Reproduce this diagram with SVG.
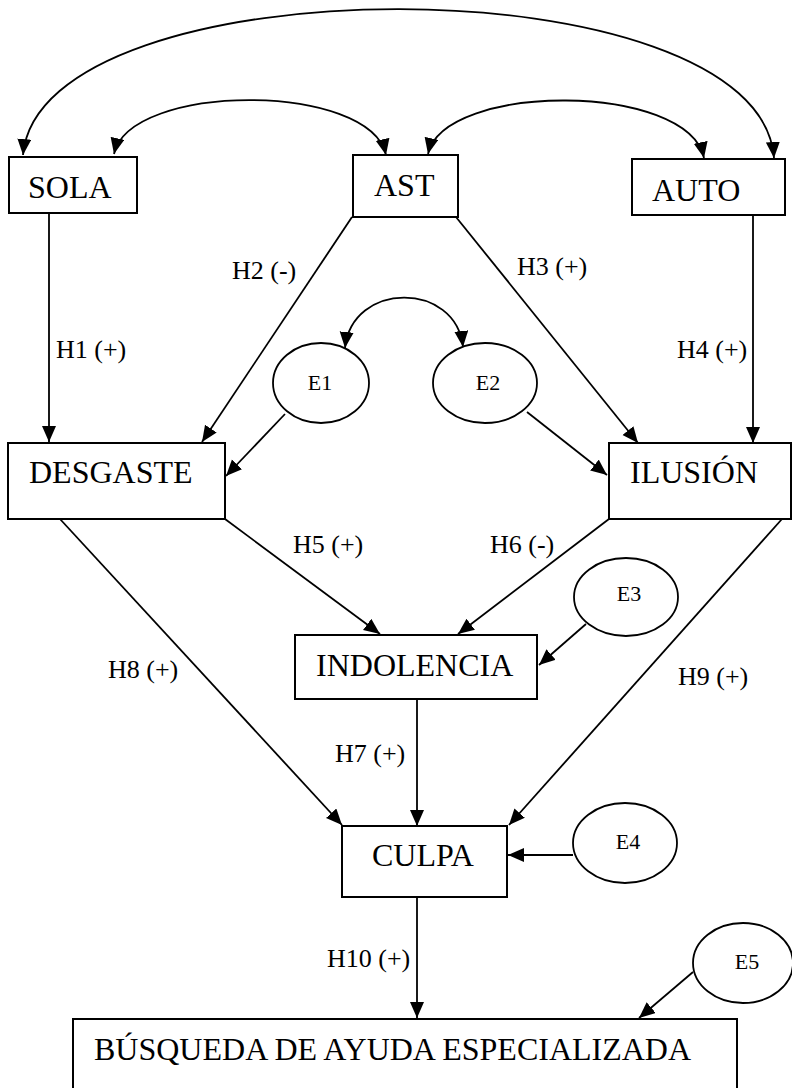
<svg xmlns="http://www.w3.org/2000/svg" width="792" height="1088" viewBox="0 0 792 1088">
<style>
.box{fill:#fff;stroke:#000;stroke-width:2}
.ell{fill:#fff;stroke:#000;stroke-width:1.8}
.ln{fill:none;stroke:#000;stroke-width:1.8;marker-end:url(#ah)}
.dbl{fill:none;stroke:#000;stroke-width:1.8;marker-start:url(#ah);marker-end:url(#ah)}
.nt{font-family:"Liberation Serif","Times New Roman",serif;font-size:32px;fill:#000}
.et{font-family:"Liberation Serif","Times New Roman",serif;font-size:22px;fill:#000;text-anchor:middle}
.lb{font-family:"Liberation Serif","Times New Roman",serif;font-size:26px;fill:#000}
</style>
<defs>
<marker id="ah" markerUnits="userSpaceOnUse" markerWidth="17" markerHeight="15" refX="16" refY="7" orient="auto-start-reverse">
<path d="M0,0 L16,7 L0,14 z" fill="#000"/>
</marker>
</defs>
<rect width="792" height="1088" fill="#fff"/>
<g id="connectors">
<path class="dbl" d="M 23 155 C 40 -40, 760 -40, 774 158"/>
<path class="dbl" d="M 114 154 C 130 82, 370 82, 386 155"/>
<path class="dbl" d="M 428 154 C 444 82, 688 82, 704 158"/>
<path class="dbl" d="M 345 348 C 352 281, 456 281, 463 347"/>
<line class="ln" x1="49" y1="213" x2="49" y2="442"/>
<line class="ln" x1="352" y1="217" x2="202" y2="442"/>
<line class="ln" x1="456" y1="217" x2="638" y2="443"/>
<line class="ln" x1="753" y1="215" x2="753" y2="443"/>
<line class="ln" x1="285" y1="414" x2="226" y2="476"/>
<line class="ln" x1="527" y1="412" x2="607" y2="475"/>
<line class="ln" x1="225" y1="519" x2="380" y2="634"/>
<line class="ln" x1="609" y1="519" x2="458" y2="634"/>
<line class="ln" x1="586" y1="624" x2="539" y2="665"/>
<line class="ln" x1="60" y1="519" x2="342" y2="825"/>
<line class="ln" x1="417" y1="699" x2="417" y2="826"/>
<line class="ln" x1="782" y1="519" x2="509" y2="825"/>
<line class="ln" x1="573" y1="855" x2="508" y2="855"/>
<line class="ln" x1="417" y1="897" x2="417" y2="1018"/>
<line class="ln" x1="693" y1="972" x2="639" y2="1018"/>
<text class="lb" x="56" y="358">H1 (+)</text>
<text class="lb" x="232" y="279">H2 (-)</text>
<text class="lb" x="517" y="275">H3 (+)</text>
<text class="lb" x="677" y="358">H4 (+)</text>
<text class="lb" x="293" y="553">H5 (+)</text>
<text class="lb" x="490" y="553">H6 (-)</text>
<text class="lb" x="335" y="762">H7 (+)</text>
<text class="lb" x="108" y="678">H8 (+)</text>
<text class="lb" x="678" y="685">H9 (+)</text>
<text class="lb" x="327" y="967">H10 (+)</text>
</g>
<g id="sola"><rect class="box" x="9" y="157" width="128" height="56"/><text class="nt" x="28" y="198">SOLA</text></g>
<g id="ast"><rect class="box" x="353" y="155" width="105" height="62"/><text class="nt" x="374" y="196">AST</text></g>
<g id="auto"><rect class="box" x="632" y="159" width="153" height="56"/><text class="nt" x="652" y="201">AUTO</text></g>
<g id="desgaste"><rect class="box" x="8" y="443" width="217" height="76"/><text class="nt" x="29" y="483">DESGASTE</text></g>
<g id="ilusion"><rect class="box" x="609" y="443" width="182" height="76"/><text class="nt" x="630" y="483">ILUSIÓN</text></g>
<g id="indolencia"><rect class="box" x="295" y="635" width="242" height="64"/><text class="nt" x="316" y="676">INDOLENCIA</text></g>
<g id="culpa"><rect class="box" x="342" y="826" width="165" height="71"/><text class="nt" x="372" y="866">CULPA</text></g>
<g id="busqueda"><rect class="box" x="73" y="1019" width="664" height="75"/><text class="nt" x="94" y="1060">BÚSQUEDA DE AYUDA ESPECIALIZADA</text></g>
<g id="e1"><ellipse class="ell" cx="321" cy="383" rx="48" ry="40"/><text class="et" x="320" y="390">E1</text></g>
<g id="e2"><ellipse class="ell" cx="485" cy="383" rx="52" ry="40"/><text class="et" x="488" y="390">E2</text></g>
<g id="e3"><ellipse class="ell" cx="626" cy="597" rx="52" ry="39"/><text class="et" x="629" y="601">E3</text></g>
<g id="e4"><ellipse class="ell" cx="625" cy="843" rx="52" ry="40"/><text class="et" x="628" y="849">E4</text></g>
<g id="e5"><ellipse class="ell" cx="743" cy="963" rx="50" ry="40"/><text class="et" x="747" y="969">E5</text></g>
</svg>
